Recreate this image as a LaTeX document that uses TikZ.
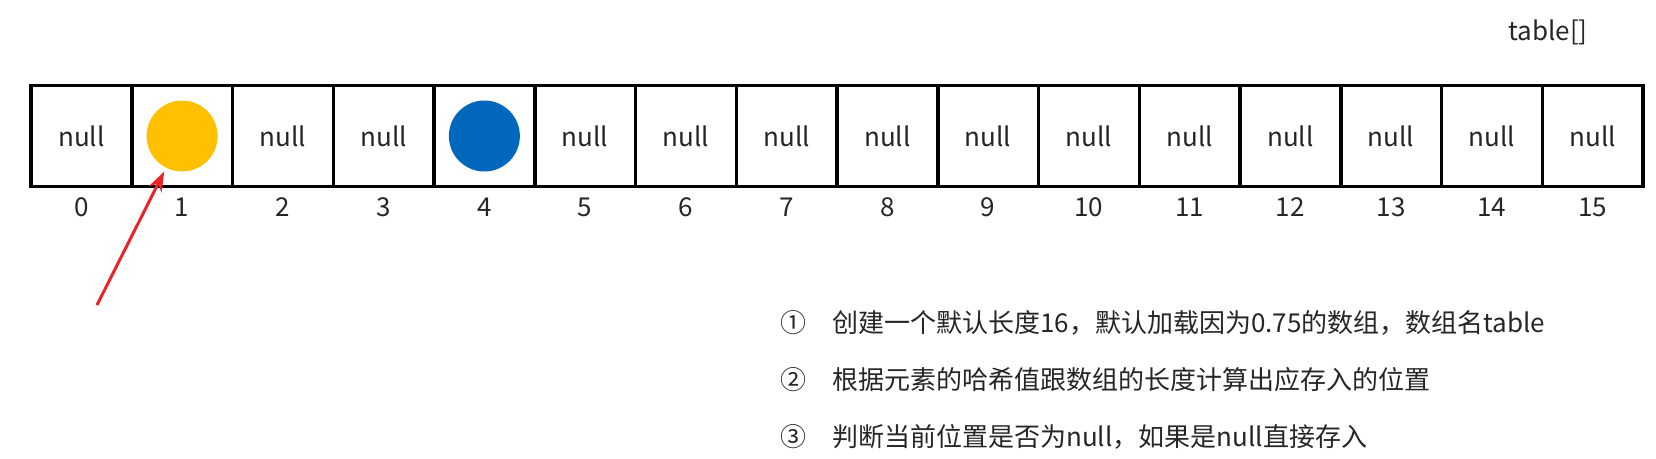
\documentclass[tikz,border=0pt]{standalone}
\usepackage{fontspec}
\setmainfont{Noto Sans CJK SC}
\usetikzlibrary{arrows.meta}
\definecolor{ballyellow}{HTML}{FFC000}
\definecolor{ballblue}{HTML}{0068BC}
\definecolor{arrowred}{HTML}{E8242B}
\definecolor{textgray}{HTML}{262626}
\tikzset{
  slot/.style={draw, line width=3.5pt, minimum size=100.75pt, inner sep=0pt,
    font=\fontsize{26}{30}\selectfont, text=textgray},
  idx/.style={inner sep=0pt, font=\fontsize{26}{30}\selectfont, text=textgray},
  ball/.style={circle, minimum size=71pt, inner sep=0pt},
  pointer/.style={draw=arrowred, line width=3pt,
    -{Stealth[length=20pt, width=14pt]}, shorten >=4pt},
  note/.style={inner sep=0pt, anchor=west, font=\fontsize{26}{30}\selectfont, text=textgray}
}
\begin{document}
\begin{tikzpicture}[x=1pt, y=-1pt]
  \useasboundingbox (0,0) rectangle (1656,458);

  \node[idx] (tname) at (1548,32) {table[]};

  \foreach \i in {0,...,15} {
    \node[slot] (c\i) at ({81.375+100.75*\i},136) {\ifnum\i=1 \else\ifnum\i=4 \else null\fi\fi};
    \node[idx] (i\i) at ({81.375+100.75*\i},207) {\i};
  }

  \node[ball, fill=ballyellow] (ball1) at (c1) {};
  \node[ball, fill=ballblue] (ball4) at (c4) {};

  \coordinate (arrtail) at (97,305);
  \draw[pointer] (arrtail) -- (ball1);

  \foreach \k/\m/\t in {1/①/创建一个默认长度16，默认加载因为0.75的数组，数组名table,
                        2/②/根据元素的哈希值跟数组的长度计算出应存入的位置,
                        3/③/判断当前位置是否为null，如果是null直接存入} {
    \node[note] (num\k) at (780,{323+57*(\k-1)}) {\m};
    \node[note] (line\k) at (832,{323+57*(\k-1)}) {\t};
  }
\end{tikzpicture}
\end{document}
